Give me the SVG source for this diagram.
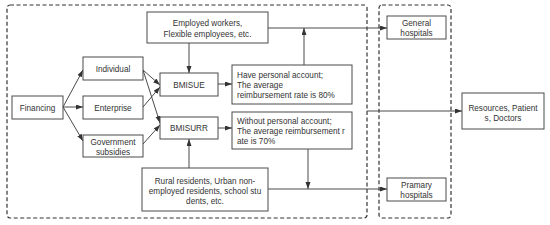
<svg xmlns="http://www.w3.org/2000/svg" width="550" height="225" viewBox="0 0 550 225">
<style>
.box{fill:#fff;stroke:#4a4a4a;stroke-width:1}
.grp{fill:none;stroke:#333;stroke-width:1.2;stroke-dasharray:4 2.5}
.t{font-family:"Liberation Sans",Arial,sans-serif;font-size:8.2px;fill:#333}
.c{text-anchor:middle}
.ln{fill:none;stroke:#4a4a4a;stroke-width:1;marker-end:url(#ah)}
</style>
<defs>
<marker id="ah" markerUnits="userSpaceOnUse" markerWidth="8" markerHeight="6" refX="7" refY="2.5" orient="auto">
<path d="M0,0 L7,2.5 L0,5 z" fill="#333"/>
</marker>
</defs>
<rect width="550" height="225" fill="#fff"/>
<g id="region-left"><rect class="grp" x="7" y="5" width="360" height="213" rx="3"/></g>
<g id="region-right"><rect class="grp" x="379" y="5" width="72" height="213" rx="3"/></g>
<g id="connectors">
<path class="ln" d="M63,107 L83,70"/>
<path class="ln" d="M63,107 L83,107"/>
<path class="ln" d="M63,107 L83,141"/>
<path class="ln" d="M143,70 L160,85"/>
<path class="ln" d="M143,70 L160,123"/>
<path class="ln" d="M143,107 L160,87"/>
<path class="ln" d="M143,144 L160,125"/>
<path class="ln" d="M189,43 L189,73"/>
<path class="ln" d="M218,84 L232,84"/>
<path class="ln" d="M218,128 L232,128"/>
<path class="ln" d="M189,168 L189,139"/>
<path class="ln" d="M268,28 L387,28"/>
<path class="ln" d="M304,65 L304,28"/>
<path class="ln" d="M308,149 L308,189"/>
<path class="ln" d="M268,189 L387,189"/>
<path class="ln" d="M367,111 L462,111"/>
</g>
<g id="financing"><rect class="box" x="12" y="96" width="51" height="23"/><text class="t c" x="37.5" y="110.5">Financing</text></g>
<g id="individual"><rect class="box" x="83" y="57" width="60" height="23"/><text class="t c" x="113" y="71.5">Individual</text></g>
<g id="enterprise"><rect class="box" x="83" y="96" width="60" height="23"/><text class="t c" x="113" y="110.5">Enterprise</text></g>
<g id="government"><rect class="box" x="83" y="135" width="60" height="22"/><text class="t c" x="113" y="144.5">Government</text><text class="t c" x="113" y="154.5">subsidies</text></g>
<g id="employed"><rect class="box" x="147" y="12" width="121" height="31"/><text class="t c" x="207.5" y="26">Employed workers,</text><text class="t c" x="207.5" y="36.5">Flexible employees, etc.</text></g>
<g id="bmisue"><rect class="box" x="160" y="73" width="58" height="23"/><text class="t c" x="189" y="87.5">BMISUE</text></g>
<g id="bmisurr"><rect class="box" x="160" y="117" width="58" height="22"/><text class="t c" x="189" y="131">BMISURR</text></g>
<g id="have-account"><rect class="box" x="232" y="65" width="120" height="39"/><text class="t" x="237" y="77.5">Have personal account;</text><text class="t" x="237" y="87.5">The average</text><text class="t" x="237" y="98">reimbursement rate is 80%</text></g>
<g id="without-account"><rect class="box" x="232" y="112" width="120" height="37"/><text class="t" x="237" y="124">Without personal account;</text><text class="t" x="237" y="134">The average reimbursement r</text><text class="t" x="237" y="144">ate is 70%</text></g>
<g id="rural"><rect class="box" x="142" y="168" width="126" height="43"/><text class="t c" x="205" y="183.5">Rural residents, Urban non-</text><text class="t c" x="205" y="193.5">employed residents, school stu</text><text class="t c" x="205" y="203.5">dents, etc.</text></g>
<g id="general-hospitals"><rect class="box" x="387" y="16" width="59" height="23"/><text class="t c" x="416.5" y="26">General</text><text class="t c" x="416.5" y="36">hospitals</text></g>
<g id="pramary-hospitals"><rect class="box" x="387" y="178" width="59" height="23"/><text class="t c" x="416.5" y="187.5">Pramary</text><text class="t c" x="416.5" y="197.5">hospitals</text></g>
<g id="resources"><rect class="box" x="462" y="93" width="82" height="36"/><text class="t c" x="503" y="110.5">Resources, Patient</text><text class="t c" x="503" y="120.5">s, Doctors</text></g>
</svg>
